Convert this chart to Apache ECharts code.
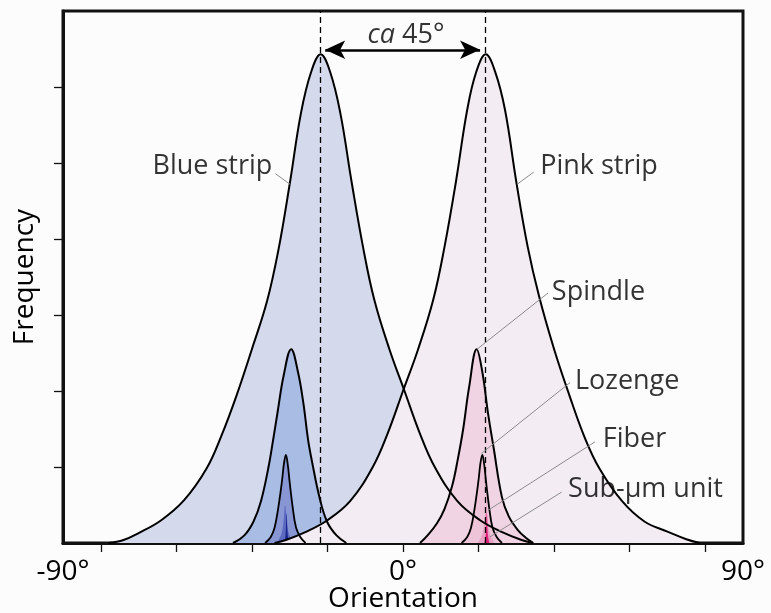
<!DOCTYPE html>
<html>
<head>
<meta charset="utf-8">
<script src="https://cdn.jsdelivr.net/npm/echarts@6/dist/echarts.min.js"></script>
<style>
html,body{margin:0;padding:0;background:#fcfcfc;}
#c{width:771px;height:613px;}
</style>
</head>
<body>
<div id="c"></div>
<script>
// ---- axis ticks / labels ----
const xTickValues = [-80, -60, -40, -20, 0, 20, 40, 60, 80];
const xLabelValues = [-90, 0, 90];
const yTickValues = [1, 2, 3, 4, 5, 6];

// ---- Blue strip ----
const blueStripX = [-78, -74, -70, -64, -58, -52, -48, -44, -40, -36, -33, -30, -27, -24.3, -21.8, -19.3, -16.6, -13.6, -10.6, -7.6, -3.6, 0.4, 4.4, 8.4, 14.4, 20.4, 26.4, 31.4, 34.4];
const blueStripY = [0, 0.04, 0.13, 0.3, 0.56, 0.98, 1.42, 1.95, 2.55, 3.18, 3.85, 4.72, 5.66, 6.2, 6.43, 6.2, 5.66, 4.75, 3.9, 3.2, 2.55, 2.0, 1.45, 1.0, 0.55, 0.3, 0.14, 0.04, 0];

// ---- Pink strip ----
const pinkStripX = [-34, -31, -26, -20, -14, -8, -4, 0, 4, 8, 11, 14, 17, 19.4, 21.9, 24.4, 27, 30, 33, 36, 40, 44, 48, 52, 58, 64, 70, 75, 78.5];
const pinkStripY = [0, 0.04, 0.14, 0.3, 0.55, 1.0, 1.45, 2.0, 2.55, 3.2, 3.9, 4.75, 5.7, 6.2, 6.43, 6.2, 5.7, 4.75, 3.9, 3.25, 2.55, 1.95, 1.4, 0.98, 0.55, 0.28, 0.15, 0.05, 0];

// ---- Blue spindle / lozenge / fiber / sub-um ----
const blueSpindleX = [-45, -42, -39.6, -37.6, -35.6, -34.4, -33.2, -31.6, -29.6, -27.8, -26.4, -25.1, -24, -22.1, -20.1, -17.6, -15];
const blueSpindleY = [0, 0.1, 0.28, 0.55, 1.0, 1.35, 1.72, 2.2, 2.55, 2.25, 1.85, 1.35, 1.05, 0.6, 0.28, 0.1, 0];
const blueLozengeX = [-36.5, -35, -34, -33, -32, -31.5, -31, -30.5, -30, -29.2, -28.3, -27.2, -25.8];
const blueLozengeY = [0, 0.08, 0.2, 0.47, 0.83, 1.05, 1.16, 1.03, 0.8, 0.47, 0.2, 0.08, 0];
const blueFiberX = [-33.4, -32.2, -31.6, -31.2, -30.8, -30.2, -29.0];
const blueFiberY = [0, 0.12, 0.3, 0.5, 0.3, 0.12, 0];
const blueSubX = [-31.5, -31.1, -30.8, -30.5, -30.1];
const blueSubY = [0, 0.1, 0.39, 0.1, 0];

// ---- Pink spindle / lozenge / fiber / sub-um ----
const pinkSpindleX = [4.5, 6.5, 9, 11, 13, 14.5, 15.9, 17.5, 19.5, 21, 22.5, 24, 26.2, 28, 30.4, 32.5, 34.5];
const pinkSpindleY = [0, 0.1, 0.26, 0.45, 0.75, 1.1, 1.49, 2.05, 2.55, 2.25, 1.71, 1.25, 0.6, 0.35, 0.17, 0.07, 0];
const pinkLozengeX = [15.5, 17, 18, 19, 20, 20.5, 21, 21.5, 22, 22.8, 23.7, 24.8, 26.2];
const pinkLozengeY = [0, 0.08, 0.2, 0.47, 0.83, 1.05, 1.16, 1.03, 0.8, 0.47, 0.2, 0.08, 0];
const pinkFiberX = [19.8, 21.0, 21.6, 22.0, 22.4, 23.0, 24.2];
const pinkFiberY = [0, 0.12, 0.3, 0.5, 0.3, 0.12, 0];
const pinkSubX = [21.5, 21.9, 22.2, 22.5, 22.9];
const pinkSubY = [0, 0.1, 0.4, 0.1, 0];

// ---- peaks (dashed lines) and arrow ----
const peakLines = [-21.8, 21.9];
const arrowFrom = [-20.6, 6.49];
const arrowTo = [20.4, 6.49];
const arrowText = ['ca', '45°'];
const arrowTextPos = [0.8, 6.68];

// ---- annotation labels ----
const labelNames = ['Blue strip', 'Pink strip', 'Spindle', 'Lozenge', 'Fiber', 'Sub-µm unit'];
const labelPos = [[-34.6, 4.95], [36.3, 4.95], [39.4, 3.30], [45.5, 2.13], [52.9, 1.37], [43.7, 0.71]];
const labelAlign = ['right', 'left', 'left', 'left', 'left', 'left'];
const leaderFrom = [[-33.8, 4.86], [34.6, 4.88], [38.4, 3.29], [44.2, 2.11], [50.8, 1.33], [42.0, 0.67]];
const leaderTo = [[-29.9, 4.72], [30.2, 4.72], [19.6, 2.55], [20.8, 1.18], [22.5, 0.43], [23.0, 0.08]];

const FONT = '"Open Sans", "Noto Sans", sans-serif';

function pts(xs, ys) { return xs.map((x, i) => [x, ys[i]]); }

function curve(name, xs, ys, fill, stroke, lw) {
  return {
    name: name, type: 'line', data: pts(xs, ys),
    smooth: 0.4, symbol: 'none', silent: true,
    lineStyle: { color: stroke, width: lw },
    areaStyle: { color: fill, opacity: 1, origin: 'start' },
    z: 2
  };
}

const chart = echarts.init(document.getElementById('c'), null, { renderer: 'canvas' });

const series = [
  curve('Blue strip', blueStripX, blueStripY, '#d4daeb', '#000', 2),
  curve('Blue spindle', blueSpindleX, blueSpindleY, '#a9bce4', '#000', 2),
  curve('Blue lozenge', blueLozengeX, blueLozengeY, '#8896d4', '#000', 1.8),
  curve('Blue fiber', blueFiberX, blueFiberY, '#5c69c0', 'rgba(0,0,0,0)', 0),
  curve('Blue sub', blueSubX, blueSubY, '#1b2590', 'rgba(0,0,0,0)', 0),
  curve('Pink strip', pinkStripX, pinkStripY, '#f4ecf3', '#000', 2),
  curve('Pink spindle', pinkSpindleX, pinkSpindleY, '#f1d4e3', '#000', 2),
  curve('Pink lozenge', pinkLozengeX, pinkLozengeY, '#eec4d9', '#000', 1.8),
  curve('Pink fiber', pinkFiberX, pinkFiberY, '#e8a0c4', 'rgba(0,0,0,0)', 0),
  curve('Pink sub', pinkSubX, pinkSubY, '#e0207a', 'rgba(0,0,0,0)', 0),
  {
    name: 'leaders', type: 'lines', coordinateSystem: 'cartesian2d', silent: true, z: 5,
    lineStyle: { color: '#8c8c8c', width: 1, opacity: 1 },
    data: leaderFrom.map((f, i) => ({ coords: [f, leaderTo[i]] })),
    markLine: {
      silent: true, symbol: 'none', animation: false,
      lineStyle: { color: '#000', width: 1.3, type: [6, 4] },
      label: { show: false },
      data: peakLines.map(v => ({ xAxis: v }))
    }
  },
  {
    name: 'arrow', type: 'line', data: [], z: 6, silent: true,
    markLine: {
      silent: true, animation: false,
      symbol: ['arrow', 'arrow'], symbolSize: [14, 20],
      lineStyle: { color: '#000', width: 2.5, type: 'solid' },
      label: { show: false },
      data: [[{ coord: arrowFrom }, { coord: arrowTo }]]
    }
  },
  {
    name: 'labels', type: 'scatter', symbolSize: 0, silent: true, z: 7,
    data: labelNames.map((n, i) => ({
      name: n, value: labelPos[i],
      label: { align: labelAlign[i] }
    })).concat([{
      name: 'ca45', value: arrowTextPos,
      label: { align: 'center', formatter: '{it|' + arrowText[0] + '} ' + arrowText[1] }
    }]),
    label: {
      show: true, position: 'inside', verticalAlign: 'middle',
      formatter: p => p.name, color: '#000', fontSize: 27, fontFamily: FONT,
      rich: { it: { fontStyle: 'italic', fontSize: 27, fontFamily: FONT, color: '#000' } }
    }
  }
];

chart.setOption({
  animation: false,
  backgroundColor: '#fcfcfc',
  grid: { left: 63, right: 28, top: 11, bottom: 70, outerBoundsMode: 'none', containLabel: false, show: true, borderColor: '#111', borderWidth: 3, backgroundColor: 'transparent' },
  xAxis: {
    type: 'value', min: -90, max: 90, interval: 10,
    name: 'Orientation', nameLocation: 'middle', nameGap: 42, nameMoveOverlap: false,
    nameTextStyle: { fontSize: 28, fontFamily: FONT, color: '#000' },
    axisLine: { show: true, onZero: false, lineStyle: { color: '#111', width: 3 } },
    axisTick: { show: true, customValues: xTickValues, length: 9, inside: false, lineStyle: { color: '#111', width: 1.3 } },
    axisLabel: { show: true, customValues: xLabelValues, formatter: v => v + '°', fontSize: 28, fontFamily: FONT, color: '#000', margin: 15 },
    splitLine: { show: false }
  },
  yAxis: {
    type: 'value', min: 0, max: 7, interval: 1,
    name: 'Frequency', nameLocation: 'middle', nameGap: 24, nameRotate: 90, nameMoveOverlap: false,
    nameTextStyle: { fontSize: 28, fontFamily: FONT, color: '#000' },
    axisLine: { show: true, onZero: false, lineStyle: { color: '#111', width: 3 } },
    axisTick: { show: true, customValues: yTickValues, length: 9, inside: false, lineStyle: { color: '#111', width: 1.3 } },
    axisLabel: { show: false },
    splitLine: { show: false }
  },
  series: series
});
</script>
</body>
</html>
